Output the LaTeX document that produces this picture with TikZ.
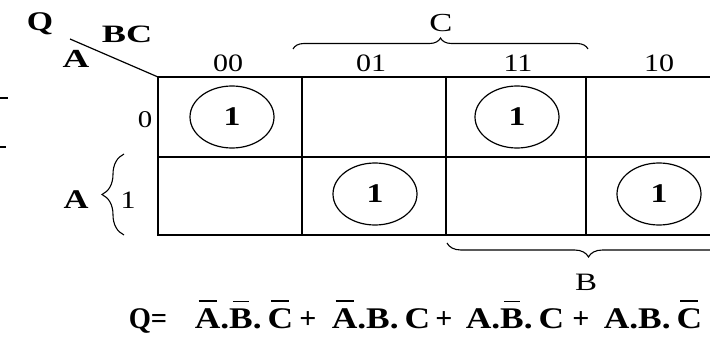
\documentclass[tikz,border=0pt]{standalone}
\usepackage{fontspec}
\setmainfont{Liberation Serif}
\usetikzlibrary{decorations.pathreplacing,shapes.geometric}
\newcommand{\xs}[2]{\scalebox{#1}[1]{#2}}
\newcommand{\fsz}[1]{\fontsize{#1}{#1}\selectfont}
\newcommand{\ovl}[1]{\setbox0\hbox{#1}\vbox{\offinterlineskip\hbox to \wd0{\hss\vrule width 0.7\wd0 height 1.8pt depth 0pt\hss}\kern 6pt\box0}}
\newcommand{\term}[3]{#1.#2.\,#3}
\begin{document}
\begin{tikzpicture}[x=1pt,y=-1pt,
  lbl/.style={inner sep=0pt, outer sep=0pt, anchor=base},
  gridline/.style={line width=1.9pt, line cap=rect},
  loopel/.style={draw, ellipse, line width=1.2pt, minimum width=84pt, minimum height=62pt, inner sep=0pt, font=\fsz{27}\bfseries},
  bracestyle/.style={decorate, line width=1.1pt}]
\clip (0,0) rectangle (710,337);
\fill[white] (0,0) rectangle (710,337);

% grid
\coordinate (g00) at (158,77);
\draw[gridline] (158,77) -- (714,77);
\draw[gridline] (158,157) -- (714,157);
\draw[gridline] (158,235) -- (714,235);
\draw[gridline] (158,77) -- (158,235);
\draw[gridline] (302,77) -- (302,235);
\draw[line width=2.4pt] (446,77) -- (446,235);
\draw[gridline] (586,77) -- (586,235);

% corner diagonal
\coordinate (diagS) at (70,39);
\draw[line width=1.2pt] (diagS) -- (g00);

% labels
\node[lbl, font=\fsz{27}\bfseries] (q) at (40,31) {\xs{1.25}{Q}};
\node[lbl, font=\fsz{25}\bfseries] (bc) at (127,43) {\xs{1.45}{BC}};
\node[lbl, font=\fsz{26}\bfseries] (atop) at (76,67) {\xs{1.42}{A}};

\node[lbl, font=\fsz{25}] (c00) at (228,72) {\xs{1.2}{00}};
\node[lbl, font=\fsz{25}] (c01) at (371,72) {\xs{1.2}{01}};
\node[lbl, font=\fsz{25}] (c11) at (518,72) {\xs{1.2}{11}};
\node[lbl, font=\fsz{25}] (c10) at (659,72) {\xs{1.2}{10}};

\node[lbl, font=\fsz{24}] (r0) at (145,127) {\xs{1.2}{0}};
\node[lbl, font=\fsz{25}] (r1) at (128,208) {\xs{1.2}{1}};
\node[lbl, font=\fsz{27}\bfseries] (aleft) at (76,208) {\xs{1.28}{A}};

% braces
\coordinate (cbL) at (293,49);
\coordinate (cbR) at (588,49);
\draw[bracestyle, decoration={brace, amplitude=11pt}] (cbL) -- (cbR);
\node[lbl, font=\fsz{26}] (clab) at (441,32) {\xs{1.33}{C}};

\coordinate (abB) at (124,235);
\coordinate (abT) at (124,154);
\draw[bracestyle, decoration={brace, amplitude=22pt, aspect=0.5}] (abB) -- (abT);

\coordinate (bbR) at (730,243);
\coordinate (bbL) at (447,243);
\draw[bracestyle, decoration={brace, amplitude=14pt}] (bbR) -- (bbL);
\node[lbl, font=\fsz{25}] (blab) at (586,290) {\xs{1.32}{B}};

% loops
\node[loopel] (m0) at (232,117) {\xs{1.25}{1}};
\node[loopel] (m3) at (517,117) {\xs{1.25}{1}};
\node[loopel] (m5) at (375,194) {\xs{1.25}{1}};
\node[loopel] (m6) at (659,194) {\xs{1.25}{1}};

% edge marks
\coordinate (e1a) at (0,98); \coordinate (e1b) at (8,98);
\coordinate (e2a) at (0,147); \coordinate (e2b) at (6,147);
\draw[line width=1.5pt] (e1a) -- (e1b);
\draw[line width=1.5pt] (e2a) -- (e2b);

% equation
\begin{scope}[every node/.style={lbl, font=\fsz{30}\bfseries}]
\node (eqq) at (148,328) {\xs{0.95}{Q=}};
\node (t1) at (244,328) {\xs{1.18}{\term{\ovl{A}}{\ovl{B}}{\ovl{C}}}};
\node (p1) at (308,328) {\xs{1.0}{+}};
\node (t2) at (381,328) {\xs{1.18}{\term{\ovl{A}}{B}{C}}};
\node (p2) at (444,328) {\xs{1.0}{+}};
\node (t3) at (515,328) {\xs{1.18}{\term{A}{\ovl{B}}{C}}};
\node (p3) at (581,328) {\xs{1.0}{+}};
\node (t4) at (653,328) {\xs{1.18}{\term{A}{B}{\ovl{C}}}};
\end{scope}
\end{tikzpicture}
\end{document}
